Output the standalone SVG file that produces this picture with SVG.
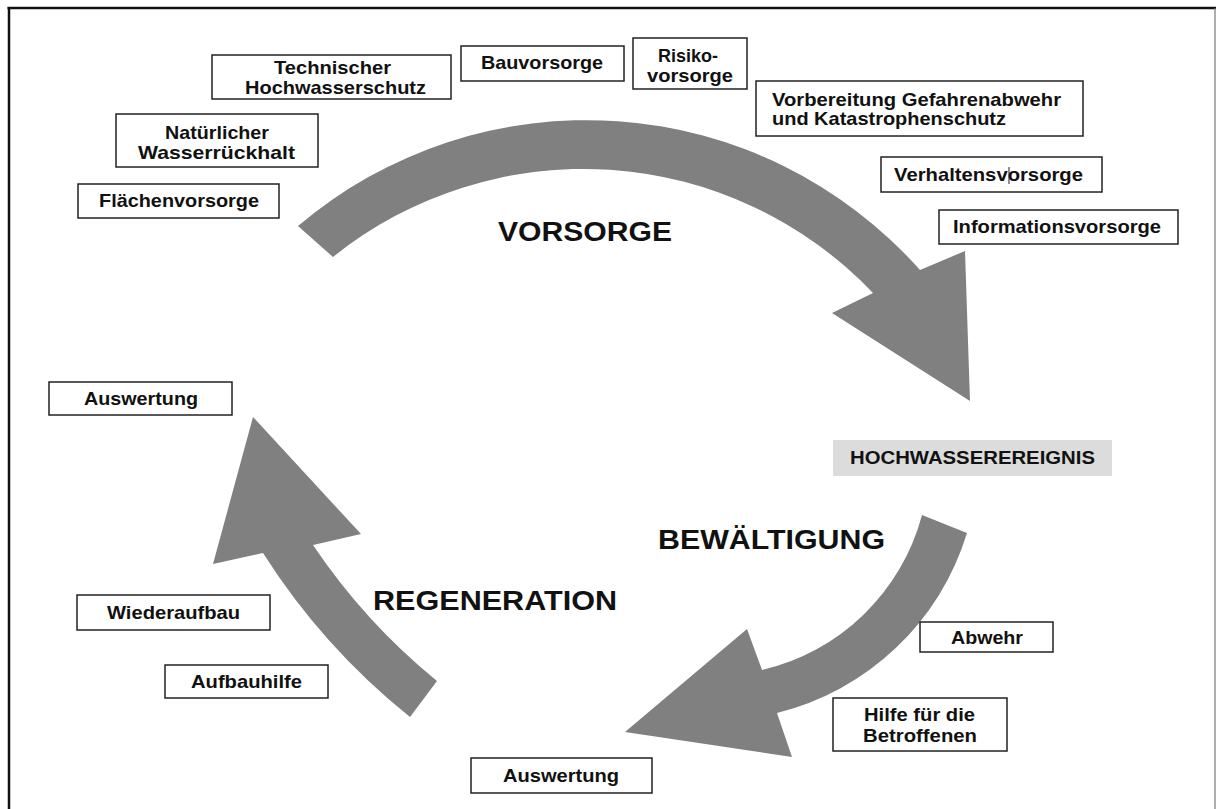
<svg xmlns="http://www.w3.org/2000/svg" width="1218" height="809" viewBox="0 0 1218 809">
<style>
.box{fill:#ffffff;stroke:#222222;stroke-width:1.5}
.t{font-family:"Liberation Sans",Arial,sans-serif;font-weight:bold;font-size:18.5px;fill:#111111}
.h{font-family:"Liberation Sans",Arial,sans-serif;font-weight:bold;font-size:27px;fill:#111111}
.arrow{fill:#808080;stroke:none}
</style>
<rect x="0" y="0" width="1218" height="809" fill="#ffffff"/>
<g id="frame" fill="none">
<line x1="7.5" y1="8" x2="1216" y2="8" stroke="#111" stroke-width="2.5"/>
<line x1="9" y1="7" x2="9" y2="809" stroke="#111" stroke-width="2.5"/>
<line x1="1215" y1="8" x2="1215" y2="809" stroke="#777" stroke-width="1.2"/>
</g>
<g id="connectors">
<path id="arrow-vorsorge" class="arrow" d="M298,226 A446,446 0 0 1 920,270 L965,251 L970,401 L832,313 L873,293 A400,400 0 0 0 333,257 Z"/>
<path id="arrow-bewaeltigung" class="arrow" d="M922,515 L967,533 A265,265 0 0 1 777,713 L792,757 L625,732 L747,629 L762,670 A216,216 0 0 0 922,515 Z"/>
<path id="arrow-regeneration" class="arrow" d="M410,717 A670,670 0 0 1 263,553 L213,564 L253,417 L361,534 L313,545 A624,624 0 0 0 437,681 Z"/>
</g>
<g id="label-vorsorge"><text class="h" x="498" y="241" textLength="174" lengthAdjust="spacingAndGlyphs">VORSORGE</text></g>
<g id="label-bewaeltigung"><text class="h" x="658" y="549" textLength="227" lengthAdjust="spacingAndGlyphs">BEWÄLTIGUNG</text></g>
<g id="label-regeneration"><text class="h" x="373" y="610" textLength="244" lengthAdjust="spacingAndGlyphs">REGENERATION</text></g>
<g id="node-technischer">
<rect class="box" x="212" y="55" width="239" height="44"/>
<text class="t" x="274" y="74" textLength="117" lengthAdjust="spacingAndGlyphs">Technischer</text>
<text class="t" x="245" y="94" textLength="181" lengthAdjust="spacingAndGlyphs">Hochwasserschutz</text>
</g>
<g id="node-natuerlicher">
<rect class="box" x="116" y="114" width="202" height="53"/>
<text class="t" x="165" y="139" textLength="104" lengthAdjust="spacingAndGlyphs">Natürlicher</text>
<text class="t" x="138" y="159" textLength="157" lengthAdjust="spacingAndGlyphs">Wasserrückhalt</text>
</g>
<g id="node-flaechen">
<rect class="box" x="78" y="184" width="201" height="34"/>
<text class="t" x="99" y="207" textLength="160" lengthAdjust="spacingAndGlyphs">Flächenvorsorge</text>
</g>
<g id="node-bau">
<rect class="box" x="461" y="46" width="163" height="35"/>
<text class="t" x="481" y="69" textLength="122" lengthAdjust="spacingAndGlyphs">Bauvorsorge</text>
</g>
<g id="node-risiko">
<rect class="box" x="633" y="38" width="114" height="51"/>
<text class="t" x="658" y="62" textLength="60" lengthAdjust="spacingAndGlyphs">Risiko-</text>
<text class="t" x="647" y="82" textLength="86" lengthAdjust="spacingAndGlyphs">vorsorge</text>
</g>
<g id="node-vorbereitung">
<rect class="box" x="756" y="81" width="327" height="55"/>
<text class="t" x="772" y="106" textLength="289" lengthAdjust="spacingAndGlyphs">Vorbereitung Gefahrenabwehr</text>
<text class="t" x="772" y="125" textLength="234" lengthAdjust="spacingAndGlyphs">und Katastrophenschutz</text>
</g>
<g id="node-verhalten">
<rect class="box" x="881" y="157" width="221" height="35"/>
<text class="t" x="894" y="181" textLength="189" lengthAdjust="spacingAndGlyphs">Verhaltensvorsorge</text>
<line x1="1009" y1="167" x2="1009" y2="184" stroke="#222" stroke-width="1"/>
</g>
<g id="node-information">
<rect class="box" x="939" y="210" width="239" height="34"/>
<text class="t" x="953" y="233" textLength="208" lengthAdjust="spacingAndGlyphs">Informationsvorsorge</text>
</g>
<g id="node-hochwasser">
<rect x="833" y="440" width="279" height="36" fill="#dcdcdc"/>
<text class="t" x="850" y="464" textLength="245" lengthAdjust="spacingAndGlyphs" fill="#222">HOCHWASSEREREIGNIS</text>
</g>
<g id="node-abwehr">
<rect class="box" x="920" y="622" width="133" height="30"/>
<text class="t" x="951" y="644" textLength="72" lengthAdjust="spacingAndGlyphs">Abwehr</text>
</g>
<g id="node-hilfe">
<rect class="box" x="833" y="698" width="174" height="53"/>
<text class="t" x="864" y="721" textLength="111" lengthAdjust="spacingAndGlyphs">Hilfe für die</text>
<text class="t" x="863" y="742" textLength="114" lengthAdjust="spacingAndGlyphs">Betroffenen</text>
</g>
<g id="node-auswertung-unten">
<rect class="box" x="471" y="758" width="181" height="35"/>
<text class="t" x="503" y="782" textLength="116" lengthAdjust="spacingAndGlyphs">Auswertung</text>
</g>
<g id="node-auswertung-links">
<rect class="box" x="49" y="382" width="183" height="33"/>
<text class="t" x="84" y="405" textLength="114" lengthAdjust="spacingAndGlyphs">Auswertung</text>
</g>
<g id="node-wiederaufbau">
<rect class="box" x="77" y="595" width="193" height="35"/>
<text class="t" x="107" y="619" textLength="133" lengthAdjust="spacingAndGlyphs">Wiederaufbau</text>
</g>
<g id="node-aufbauhilfe">
<rect class="box" x="165" y="665" width="163" height="33"/>
<text class="t" x="191" y="688" textLength="111" lengthAdjust="spacingAndGlyphs">Aufbauhilfe</text>
</g>
</svg>
